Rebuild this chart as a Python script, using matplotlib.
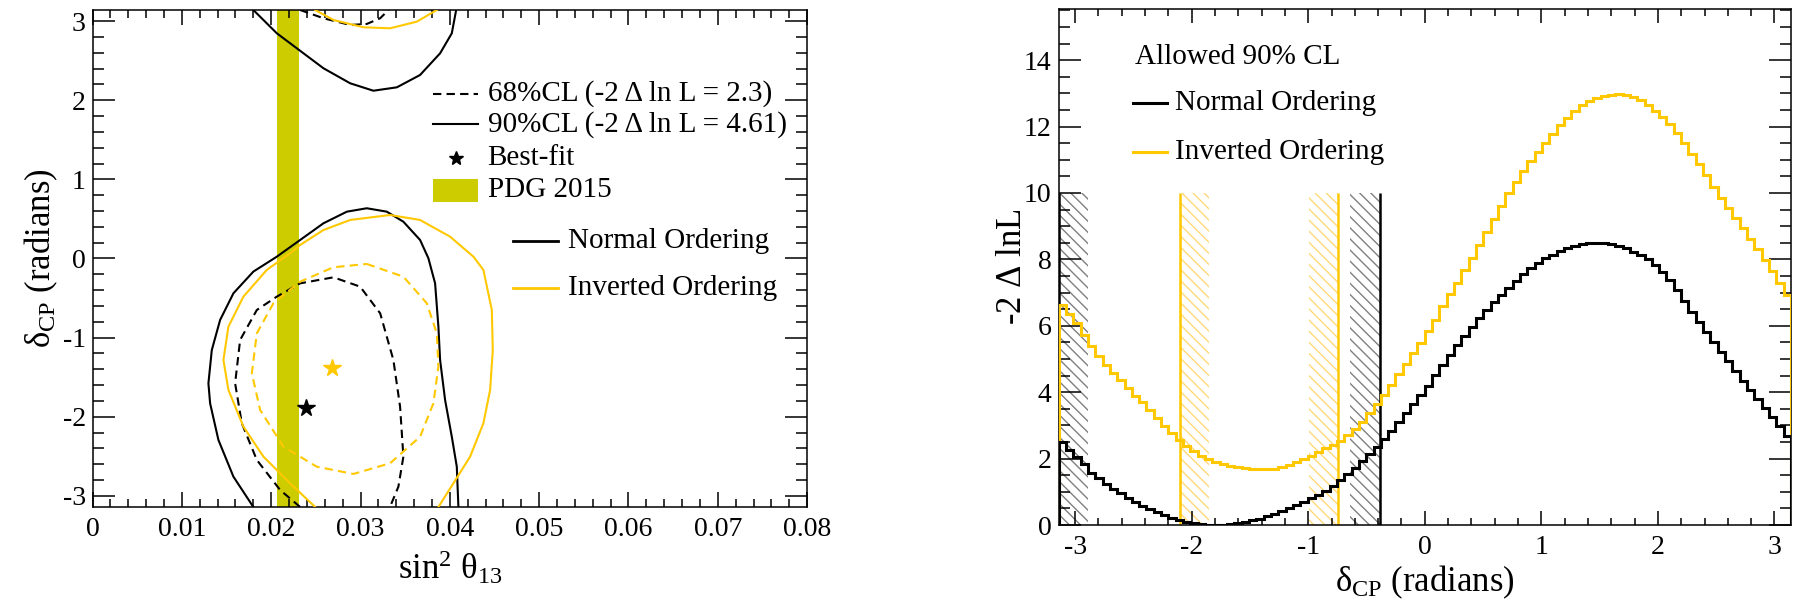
import numpy as np
import matplotlib
matplotlib.use('Agg')
import matplotlib.pyplot as plt
from matplotlib.patches import Rectangle
from matplotlib.ticker import MultipleLocator

plt.rcParams['font.family'] = ['Liberation Serif', 'DejaVu Serif']
plt.rcParams['mathtext.fontset'] = 'custom'
plt.rcParams['mathtext.rm'] = 'Liberation Serif'
plt.rcParams['mathtext.it'] = 'Liberation Serif'
plt.rcParams['axes.unicode_minus'] = False
plt.rcParams['hatch.linewidth'] = 1.0

# ---- left panel: contours in (sin^2 theta13, delta_CP) ----
no90_upper_x = [0.0180, 0.02063, 0.02312, 0.02585, 0.02884, 0.03144, 0.03407, 0.03667, 0.03891, 0.04022, 0.04071]
no90_upper_y = [3.1416, 2.847, 2.636, 2.405, 2.215, 2.121, 2.164, 2.320, 2.594, 2.847, 3.1416]
no90_lower_x = [0.0180, 0.01577, 0.01409, 0.01316, 0.01297, 0.01335, 0.01428, 0.01577, 0.0180, 0.02063,
                0.02324, 0.02585, 0.02847, 0.0307, 0.03294, 0.0348, 0.03667, 0.0376, 0.03835, 0.03872,
                0.03891, 0.03947, 0.04022, 0.04078, 0.04096]
no90_lower_y = [-3.1416, -2.758, -2.294, -1.831, -1.578, -1.157, -0.777, -0.440, -0.166, 0.023,
                0.234, 0.445, 0.592, 0.635, 0.592, 0.465, 0.234, 0.003, -0.314, -0.862,
                -1.283, -1.789, -2.253, -2.632, -3.1416]
no68_upper_x = [0.02324, 0.02585, 0.02884, 0.0307, 0.0322, 0.03313]
no68_upper_y = [3.1416, 3.037, 2.952, 2.965, 3.037, 3.1416]
no68_lower_x = [0.02324, 0.021, 0.01839, 0.01671, 0.01596, 0.01652, 0.01839, 0.02063, 0.02324, 0.02697,
                0.02996, 0.0322, 0.03368, 0.03443, 0.0348, 0.03424, 0.0333]
no68_lower_y = [-3.1416, -2.927, -2.547, -2.083, -1.578, -1.030, -0.651, -0.482, -0.314, -0.238,
                -0.356, -0.693, -1.283, -1.873, -2.505, -2.885, -3.1416]
io90_upper_x = [0.02492, 0.02697, 0.03033, 0.03331, 0.03630, 0.03854]
io90_upper_y = [3.1416, 3.015, 2.923, 2.910, 2.994, 3.1416]
io90_lower_x = [0.02492, 0.02212, 0.01913, 0.01689, 0.01521, 0.01465, 0.01521, 0.01689, 0.0195, 0.02212,
                0.02324, 0.02585, 0.02884, 0.03331, 0.03667, 0.04003, 0.04264, 0.04376, 0.0447, 0.04481,
                0.04451, 0.04376, 0.04227, 0.0404, 0.03872]
io90_lower_y = [-3.1416, -2.842, -2.505, -2.126, -1.662, -1.283, -0.862, -0.482, -0.145, 0.066,
                0.171, 0.360, 0.487, 0.550, 0.487, 0.276, 0.023, -0.145, -0.651, -1.157,
                -1.662, -2.083, -2.505, -2.842, -3.1416]
io68_x = [0.0307, 0.0348, 0.03742, 0.03854, 0.03872, 0.03816, 0.03667, 0.03331, 0.0292, 0.0251,
          0.02137, 0.01876, 0.01783, 0.01839, 0.02025, 0.02324, 0.02697, 0.0307]
io68_y = [-0.069, -0.230, -0.566, -0.946, -1.368, -1.831, -2.253, -2.589, -2.724, -2.632,
          -2.379, -1.915, -1.452, -0.946, -0.566, -0.293, -0.111, -0.069]
best_no = (0.0239, -1.894)
best_io = (0.0268, -1.388)
pdg_range = (0.0207, 0.0231)

# ---- right panel: -2 dlnL vs delta_CP (100 bins from -pi to pi) ----
dchi_no = [2.50, 2.27, 2.05, 1.83, 1.58, 1.41, 1.24, 1.09, 0.95, 0.81,
           0.70, 0.58, 0.48, 0.39, 0.30, 0.22, 0.14, 0.09, 0.05, 0.02,
           0.01, 0.00, 0.01, 0.02, 0.05, 0.09, 0.14, 0.19, 0.27, 0.34,
           0.42, 0.50, 0.60, 0.69, 0.80, 0.90, 1.03, 1.18, 1.35, 1.53,
           1.73, 1.92, 2.13, 2.35, 2.58, 2.82, 3.10, 3.37, 3.64, 3.92,
           4.20, 4.52, 4.83, 5.13, 5.42, 5.70, 5.97, 6.23, 6.47, 6.71,
           6.93, 7.15, 7.36, 7.56, 7.74, 7.90, 8.03, 8.14, 8.24, 8.33,
           8.40, 8.45, 8.48, 8.50, 8.49, 8.46, 8.41, 8.33, 8.23, 8.12,
           8.00, 7.84, 7.63, 7.38, 7.07, 6.75, 6.43, 6.12, 5.82, 5.52,
           5.22, 4.93, 4.64, 4.35, 4.08, 3.81, 3.53, 3.25, 2.98, 2.68]
dchi_io = [6.62, 6.35, 6.07, 5.73, 5.40, 5.10, 4.83, 4.58, 4.36, 4.13,
           3.90, 3.69, 3.45, 3.21, 2.98, 2.77, 2.56, 2.38, 2.22, 2.09,
           1.99, 1.91, 1.84, 1.78, 1.74, 1.71, 1.69, 1.68, 1.68, 1.70,
           1.74, 1.80, 1.89, 1.99, 2.09, 2.20, 2.31, 2.42, 2.54, 2.70,
           2.89, 3.11, 3.36, 3.63, 3.92, 4.23, 4.55, 4.86, 5.18, 5.49,
           5.83, 6.18, 6.59, 6.95, 7.30, 7.68, 8.05, 8.43, 8.83, 9.23,
           9.62, 9.99, 10.34, 10.66, 10.95, 11.23, 11.50, 11.77, 12.04, 12.27,
           12.47, 12.65, 12.77, 12.86, 12.92, 12.96, 12.97, 12.95, 12.89, 12.79,
           12.64, 12.47, 12.29, 12.08, 11.82, 11.50, 11.18, 10.86, 10.54, 10.18,
           9.85, 9.55, 9.24, 8.93, 8.62, 8.30, 7.98, 7.66, 7.30, 6.93]
no_lines = [-3.1416, -0.386]
no_bands = [(-3.1416, -2.89), (-0.64, -0.386)]
io_lines = [-2.10, -0.743]
io_bands = [(-2.10, -1.85), (-0.993, -0.743)]
band_top = 10

BLACK = 'black'
GOLD = '#ffc800'
PDG = '#cccc00'
dash = (0, (4, 2.5))


def root_style(ax, xmaj, xmin, ymaj, ymin, xlen, ylen):
    ax.xaxis.set_major_locator(MultipleLocator(xmaj))
    ax.xaxis.set_minor_locator(MultipleLocator(xmin))
    ax.yaxis.set_major_locator(MultipleLocator(ymaj))
    ax.yaxis.set_minor_locator(MultipleLocator(ymin))
    ax.tick_params(which='both', direction='in', top=True, right=True, width=1.1,
                   labelsize=20)
    ax.tick_params(axis='x', which='major', length=xlen, pad=7)
    ax.tick_params(axis='x', which='minor', length=xlen / 2)
    ax.tick_params(axis='y', which='major', length=ylen, pad=5)
    ax.tick_params(axis='y', which='minor', length=ylen / 2)
    for s in ax.spines.values():
        s.set_linewidth(1.1)


fig = plt.figure(figsize=(18.08, 6.09), dpi=100)
ax1 = fig.add_axes([0.0512, 0.1675, 0.3952, 0.8161])
ax2 = fig.add_axes([0.5855, 0.1379, 0.4051, 0.8473])

# left panel
ax1.axvspan(pdg_range[0], pdg_range[1], color=PDG, lw=0, zorder=1)
lw = 1.5
ax1.plot(no90_upper_x, no90_upper_y, color=BLACK, lw=lw, zorder=3)
ax1.plot(no90_lower_x, no90_lower_y, color=BLACK, lw=lw, zorder=3)
ax1.plot(no68_upper_x, no68_upper_y, color=BLACK, lw=lw, ls=dash, zorder=3)
ax1.plot(no68_lower_x, no68_lower_y, color=BLACK, lw=lw, ls=dash, zorder=3)
ax1.plot(io90_upper_x, io90_upper_y, color=GOLD, lw=lw, zorder=3)
ax1.plot(io90_lower_x, io90_lower_y, color=GOLD, lw=lw, zorder=3)
ax1.plot(io68_x, io68_y, color=GOLD, lw=lw, ls=dash, zorder=3)
ax1.plot(*best_no, marker='*', ms=13, color=BLACK, ls='none', zorder=4)
ax1.plot(*best_io, marker='*', ms=13, color=GOLD, ls='none', zorder=4)
ax1.set_xlim(0, 0.08)
ax1.set_ylim(-np.pi, np.pi)
root_style(ax1, 0.01, 0.002, 1, 0.2, 11, 16)
ax1.set_xlabel(r'sin$^{2}$ $\theta_{13}$', fontsize=25)
ax1.set_ylabel(r'$\delta_{\mathrm{CP}}$ (radians)', fontsize=25)
ax1.xaxis.set_label_coords(0.5, -0.085)
ax1.yaxis.set_label_coords(-0.046, 0.5)
ax1.set_xticks([0, 0.01, 0.02, 0.03, 0.04, 0.05, 0.06, 0.07, 0.08])
ax1.set_xticklabels(['0', '0.01', '0.02', '0.03', '0.04', '0.05', '0.06', '0.07', '0.08'])

# left legend (drawn by hand, ROOT style spacing)
tr = ax1.transAxes
fs = 21
hx0, hx1, tx = 0.4766, 0.5395, 0.5528
rows = [0.831, 0.770, 0.702, 0.637]
ax1.plot([hx0, hx1], [rows[0]] * 2, color=BLACK, lw=lw, ls=dash, transform=tr)
ax1.plot([hx0, hx1], [rows[1]] * 2, color=BLACK, lw=lw, transform=tr)
ax1.plot([(hx0 + hx1) / 2], [rows[2]], marker='*', ms=10, color=BLACK, transform=tr)
ax1.add_patch(Rectangle((hx0, rows[3] - 0.023), hx1 - hx0, 0.046, color=PDG, lw=0, transform=tr))
labels = ['68%CL (-2 Δ ln L = 2.3)', '90%CL (-2 Δ ln L = 4.61)', 'Best-fit', 'PDG 2015']
for y, t in zip(rows, labels):
    ax1.text(tx, y, t, fontsize=fs, va='center', ha='left', transform=tr)
for y, c, t in [(0.535, BLACK, 'Normal Ordering'), (0.441, GOLD, 'Inverted Ordering')]:
    ax1.plot([0.5885, 0.652], [y, y], color=c, lw=2, transform=tr)
    ax1.text(0.666, y, t, fontsize=fs, va='center', ha='left', transform=tr)

# right panel
edges = np.linspace(-np.pi, np.pi, len(dchi_no) + 1)
for lo, hi in no_bands:
    ax2.fill_between([lo, hi], 0, band_top, facecolor='none', edgecolor='#808080',
                     hatch='\\\\\\', lw=0, zorder=1)
for lo, hi in io_bands:
    ax2.fill_between([lo, hi], 0, band_top, facecolor='none', edgecolor='#ffd878',
                     hatch='\\\\\\', lw=0, zorder=1)
ax2.vlines(no_lines, 0, band_top, color=BLACK, lw=1.8, zorder=2)
ax2.vlines(io_lines, 0, band_top, color=GOLD, lw=1.8, zorder=2)
ax2.stairs(dchi_io, edges, color=GOLD, lw=2.2, zorder=3)
ax2.stairs(dchi_no, edges, color=BLACK, lw=2.2, zorder=3)
ax2.set_xlim(-np.pi, np.pi)
ax2.set_ylim(0, 15.54)
root_style(ax2, 1, 0.2, 2, 0.5, 10, 16)
ax2.set_xlabel(r'$\delta_{\mathrm{CP}}$ (radians)', fontsize=25)
ax2.set_ylabel(r'-2 $\Delta$ lnL', fontsize=25)
ax2.xaxis.set_label_coords(0.5, -0.074)
ax2.yaxis.set_label_coords(-0.04, 0.5)

tr2 = ax2.transAxes
ax2.text(0.1048, 0.907, 'Allowed 90% CL', fontsize=fs, va='center', ha='left', transform=tr2)
for y, c, t in [(0.818, BLACK, 'Normal Ordering'), (0.7234, GOLD, 'Inverted Ordering')]:
    ax2.plot([0.1011, 0.1481], [y, y], color=c, lw=2.2, transform=tr2)
    ax2.text(0.1596, y, t, fontsize=fs, va='center', ha='left', transform=tr2)

fig.savefig('out.png', dpi=100)
